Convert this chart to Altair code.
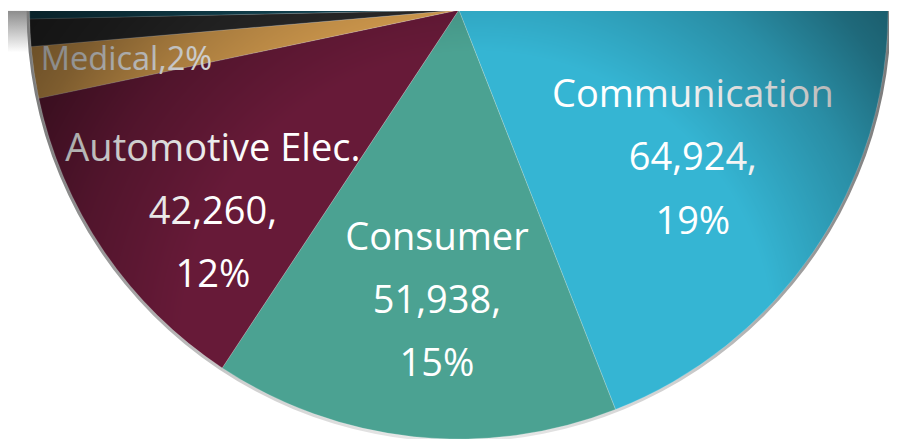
import math
import altair as alt
import pandas as pd

# ---- data ----
categories = ["Communication", "Consumer", "Automotive Elec.", "Medical", "Segment 5", "Segment 6"]
values = [64924, 51938, 42260, 6615, 3500, 171500]
colors = ["#35b5d3", "#4ba292", "#671a38", "#d89f50", "#2a2a2a", "#134a5a"]

total = sum(values)
df = pd.DataFrame({"category": categories, "value": values, "order": list(range(len(categories)))})

# ---- layout / style ----
W, H = 893, 434
CX, CY, R = 457, -1, 435
FONT = "Open Sans"
LINE = 64

theta_scale = alt.Scale(domain=[0, total], range=[math.pi / 2, math.pi / 2 + 2 * math.pi])
color_scale = alt.Scale(domain=categories, range=colors)

base = alt.Chart(df).transform_window(
    cum="sum(value)", sort=[alt.SortField("order")], frame=[None, 0]
).transform_calculate(
    start="datum.cum - datum.value",
    mid="datum.cum - datum.value / 2",
    pct=f"round(datum.value / {total} * 100) + '%'",
    num="format(datum.value, ',') + ','",
    med="datum.category + ',' + round(datum.value / %d * 100) + '%%'" % total,
)

one = pd.DataFrame({"k": [0]})

# top-left shading
shade = alt.Chart(one).mark_rect(
    fill=alt.LinearGradient(
        gradient="linear", x1=0, y1=0, x2=0, y2=1,
        stops=[alt.GradientStop(offset=0, color="#8c8c8c"), alt.GradientStop(offset=1, color="#ffffff")],
    )
).encode(x=alt.value(0), x2=alt.value(20), y=alt.value(0), y2=alt.value(42))

# thin top edge line on the right
topline = alt.Chart(one).mark_rect(
    fill=alt.LinearGradient(
        gradient="linear", x1=0, y1=0, x2=1, y2=0,
        stops=[
            alt.GradientStop(offset=0, color="#9a9a9a"),
            alt.GradientStop(offset=0.6, color="#f2f2f2"),
            alt.GradientStop(offset=1, color="#9a9a9a"),
        ],
    )
).encode(x=alt.value(CX - 20), x2=alt.value(W), y=alt.value(0), y2=alt.value(1.5))

# rim behind the pie
rim = alt.Chart(one).mark_arc(
    outerRadius=R + 3, clip=True,
    fill=alt.LinearGradient(
        gradient="linear", x1=0, y1=0, x2=1, y2=0,
        stops=[
            alt.GradientStop(offset=0, color="#7a7a7a"),
            alt.GradientStop(offset=0.25, color="#d0d0d0"),
            alt.GradientStop(offset=0.5, color="#eeeeee"),
            alt.GradientStop(offset=0.75, color="#d0d0d0"),
            alt.GradientStop(offset=1, color="#7a7a7a"),
        ],
    ),
).encode(x=alt.value(CX), y=alt.value(CY), theta=alt.value(0), theta2=alt.value(2 * math.pi))

arcs = base.mark_arc(
    outerRadius=R, clip=True, stroke="#ffffff", strokeOpacity=0.25, strokeWidth=0.8
).encode(
    x=alt.value(CX),
    y=alt.value(CY),
    theta=alt.Theta("start:Q", scale=theta_scale, stack=None),
    theta2="cum:Q",
    color=alt.Color("category:N", scale=color_scale, legend=None),
)

label_cfg = {
    "Communication": dict(r=278, dx=7.5, dy=-6),
    "Consumer": dict(r=294, dx=8.7, dy=2.5),
    "Automotive Elec.": dict(r=319, dx=14.5, dy=25.7),
}

texts = []
for cat, cfg in label_cfg.items():
    for i, field in enumerate(["category", "num", "pct"]):
        texts.append(
            base.transform_filter(alt.datum.category == cat).mark_text(
                font=FONT, fontSize=38.5, color="#ffffff", align="center", baseline="middle",
                dx=cfg["dx"], dy=cfg["dy"] + (i - 1) * LINE,
            ).encode(
                x=alt.value(CX), y=alt.value(CY),
                theta=alt.Theta("mid:Q", scale=theta_scale, stack=None),
                radius=alt.value(cfg["r"]),
                text=alt.Text(f"{field}:N"),
            )
        )

texts.append(
    base.transform_filter(alt.datum.category == "Medical").mark_text(
        font=FONT, fontSize=33, color="#ffffff", align="center", baseline="middle", dx=-2.5, dy=1.5,
    ).encode(
        x=alt.value(CX), y=alt.value(CY),
        theta=alt.Theta("mid:Q", scale=theta_scale, stack=None),
        radius=alt.value(338),
        text=alt.Text("med:N"),
    )
)

# lighting overlay (darkens toward the outer top corners)
overlay = alt.Chart(one).mark_arc(
    outerRadius=R, clip=True,
    fill=alt.RadialGradient(
        gradient="radial", x1=0.522, y1=0.894, r1=0, x2=0.522, y2=0.894, r2=0.644,
        stops=[
            alt.GradientStop(offset=0, color="rgba(0,0,0,0)"),
            alt.GradientStop(offset=0.536, color="rgba(0,0,0,0)"),
            alt.GradientStop(offset=0.75, color="rgba(0,0,0,0.22)"),
            alt.GradientStop(offset=0.893, color="rgba(0,0,0,0.42)"),
            alt.GradientStop(offset=1, color="rgba(0,0,0,0.52)"),
        ],
    ),
).encode(x=alt.value(CX), y=alt.value(CY), theta=alt.value(0), theta2=alt.value(2 * math.pi))

chart = alt.layer(shade, topline, rim, arcs, *texts, overlay).properties(
    width=W, height=H, padding=0, background="#ffffff"
).configure_view(stroke=None)

chart.save("out.html", embed_options={"renderer": "svg", "actions": False})
